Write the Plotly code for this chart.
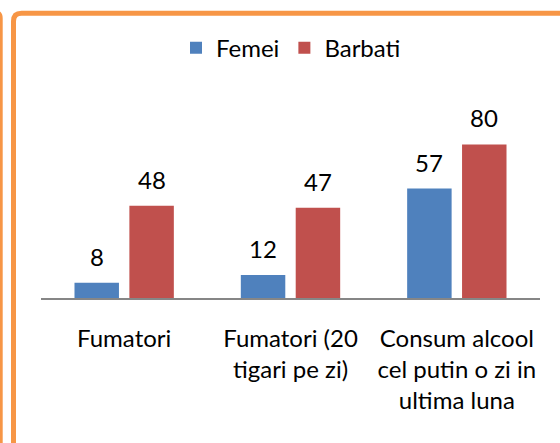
import plotly.graph_objects as go

categories = ["Fumatori", "Fumatori (20<br>tigari pe zi)", "Consum alcool<br>cel putin o zi in<br>ultima luna"]
femei = [8, 12, 57]
barbati = [48, 47, 80]
series_names = ["Femei", "Barbati"]

W, H = 560, 443
L, R, T, B = 41, 20, 106, 144.5
PW, PH = W - L - R, H - T - B
BARGAP = 0.34
GROUPGAP = 0.19
FONT = dict(family="Lato, 'Open Sans', sans-serif", size=24, color="#000000")

def px(x):
    return (x - L) / PW

def py(y):
    return (H - B - y) / PH

fig = go.Figure()
fig.add_trace(go.Bar(x=categories, y=femei, name=series_names[0],
                     marker=dict(color="#4F81BD", line=dict(width=0))))
fig.add_trace(go.Bar(x=categories, y=barbati, name=series_names[1],
                     marker=dict(color="#C0504D", line=dict(width=0))))

# data labels above bars
cat_w = PW / len(categories)
slot = cat_w * (1 - BARGAP) / 2
annotations = []
for i, vals in enumerate([femei, barbati]):
    shift = (i - 0.5) * slot
    for c, v in zip(categories, vals):
        annotations.append(dict(x=c, y=v, xref="x", yref="y", text=str(v),
                                showarrow=False, yanchor="bottom", xshift=shift,
                                yshift=10, font=FONT))

# orange frame
shapes = [
    dict(type="path", xref="paper", yref="paper",
         path=(f"M {px(13.5)},{py(470)} L {px(13.5)},{py(21)} "
               f"Q {px(13.5)},{py(13)} {px(21.5)},{py(13)} L {px(600)},{py(13)}"),
         line=dict(color="#F79646", width=5)),
    dict(type="path", xref="paper", yref="paper",
         path=(f"M {px(-10)},{py(11.5)} L {px(-5)},{py(11.5)} "
               f"Q {px(1.2)},{py(11.5)} {px(1.2)},{py(18)} L {px(1.2)},{py(470)}"),
         line=dict(color="#F79646", width=3)),
]

fig.update_layout(
    width=W, height=H,
    margin=dict(l=L, r=R, t=T, b=B, pad=0, autoexpand=False),
    paper_bgcolor="white", plot_bgcolor="white",
    barmode="group", bargap=BARGAP, bargroupgap=GROUPGAP,
    font=FONT,
    showlegend=True,
    legend=dict(orientation="h", x=px(291), xanchor="center", y=py(48), yanchor="middle",
                font=FONT, itemclick=False, bgcolor="rgba(0,0,0,0)", itemwidth=30),
    annotations=annotations,
    shapes=shapes,
    xaxis=dict(showline=True, linecolor="#868686", linewidth=2, ticks="",
               showgrid=False, zeroline=False, ticklabelstandoff=18,
               tickfont=FONT, fixedrange=True, automargin=False),
    yaxis=dict(range=[0, 100], visible=False, showgrid=False, zeroline=False,
               fixedrange=True, automargin=False),
)

fig.write_html("out.html", config={"displayModeBar": False},
               post_script="document.body.style.margin='0';document.body.style.overflow='hidden';")
